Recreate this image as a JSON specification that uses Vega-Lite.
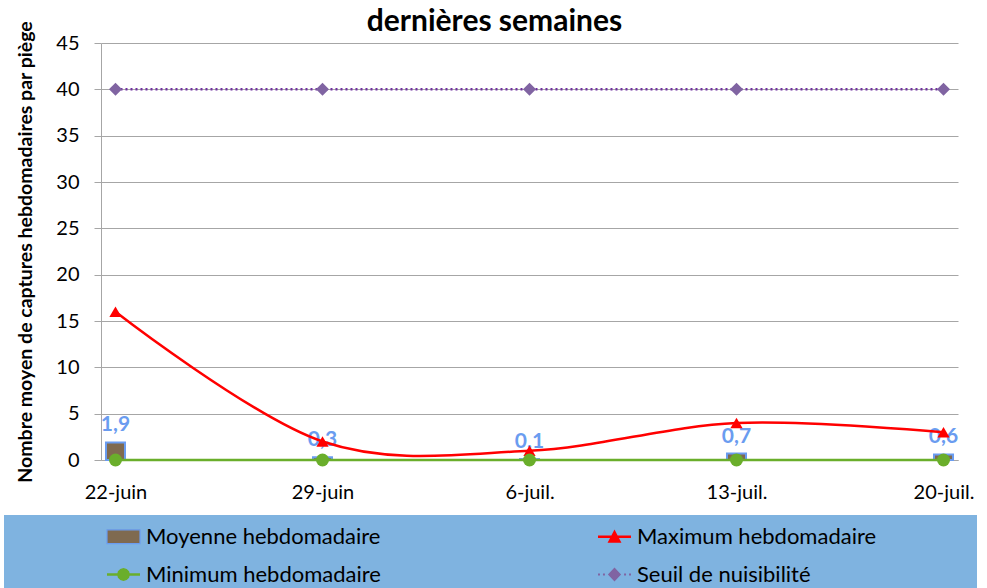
{
  "$schema": "https://vega.github.io/schema/vega-lite/v6.json",
  "width": 857,
  "height": 417,
  "autosize": {"type": "none"},
  "padding": {"left": 101, "top": 43, "right": 29, "bottom": 128},
  "background": "white",
  "config": {
    "font": "Lato",
    "view": {"stroke": null},
    "locale": {"number": {"decimal": ",", "thousands": " ", "grouping": [3], "currency": ["", " €"]}},
    "legend": {
      "orient": "none",
      "legendX": -97,
      "legendY": 472,
      "titleOrient": "left",
      "titleFontSize": 1,
      "titlePadding": 98,
      "columns": 2,
      "columnPadding": 118,
      "rowPadding": 9,
      "padding": 4,
      "fillColor": "#7FB3E0",
      "labelFont": "Lato",
      "labelFontSize": 22,
      "labelColor": "#000000",
      "labelOffset": 5,
      "labelLimit": 0,
      "symbolSize": 1089,
      "symbolOpacity": 1,
      "symbolStrokeWidth": 1.2
    }
  },
  "title": {
    "text": "dernières semaines",
    "font": "Lato",
    "fontSize": 30,
    "fontWeight": "bold",
    "color": "#000000",
    "anchor": "middle",
    "frame": "group",
    "baseline": "alphabetic",
    "offset": 11,
    "dx": -35,
    "dy": 51
  },
  "data": {
    "values": [
      {"date": "22-juin", "serie": "Moyenne hebdomadaire", "value": 1.9},
      {"date": "29-juin", "serie": "Moyenne hebdomadaire", "value": 0.3},
      {"date": "6-juil.", "serie": "Moyenne hebdomadaire", "value": 0.1},
      {"date": "13-juil.", "serie": "Moyenne hebdomadaire", "value": 0.7},
      {"date": "20-juil.", "serie": "Moyenne hebdomadaire", "value": 0.6},
      {"date": "22-juin", "serie": "Maximum hebdomadaire", "value": 16},
      {"date": "29-juin", "serie": "Maximum hebdomadaire", "value": 2},
      {"date": "6-juil.", "serie": "Maximum hebdomadaire", "value": 1},
      {"date": "13-juil.", "serie": "Maximum hebdomadaire", "value": 4},
      {"date": "20-juil.", "serie": "Maximum hebdomadaire", "value": 3},
      {"date": "22-juin", "serie": "Minimum hebdomadaire", "value": 0},
      {"date": "29-juin", "serie": "Minimum hebdomadaire", "value": 0},
      {"date": "6-juil.", "serie": "Minimum hebdomadaire", "value": 0},
      {"date": "13-juil.", "serie": "Minimum hebdomadaire", "value": 0},
      {"date": "20-juil.", "serie": "Minimum hebdomadaire", "value": 0},
      {"date": "22-juin", "serie": "Seuil de nuisibilité", "value": 40},
      {"date": "29-juin", "serie": "Seuil de nuisibilité", "value": 40},
      {"date": "6-juil.", "serie": "Seuil de nuisibilité", "value": 40},
      {"date": "13-juil.", "serie": "Seuil de nuisibilité", "value": 40},
      {"date": "20-juil.", "serie": "Seuil de nuisibilité", "value": 40}
    ]
  },
  "encoding": {
    "x": {
      "field": "date",
      "type": "ordinal",
      "sort": null,
      "scale": {"type": "point", "padding": 0.07},
      "axis": {
        "title": null,
        "labelAngle": 0,
        "labelFont": "Lato",
        "labelFontSize": 20,
        "labelColor": "#000000",
        "labelPadding": 22,
        "ticks": false,
        "tickSize": 0,
        "domain": true,
        "domainColor": "#A6A6A6",
        "grid": false
      }
    },
    "y": {
      "field": "value",
      "type": "quantitative",
      "scale": {"domain": [0, 45], "nice": false},
      "axis": {
        "title": "Nombre moyen de captures hebdomadaires par piège",
        "titleFont": "Lato",
        "titleFontSize": 19.5,
        "titleFontWeight": "bold",
        "titleColor": "#000000",
        "titlePadding": 20,
        "titleLimit": 700,
        "values": [0, 5, 10, 15, 20, 25, 30, 35, 40, 45],
        "labelFont": "Lato",
        "labelFontSize": 20,
        "labelColor": "#000000",
        "labelPadding": 15,
        "tickSize": 7,
        "tickColor": "#A6A6A6",
        "domainColor": "#A6A6A6",
        "gridColor": "#A6A6A6",
        "grid": true
      }
    }
  },
  "layer": [
    {
      "transform": [{"filter": "datum.serie === 'Moyenne hebdomadaire'"}],
      "mark": {"type": "bar", "width": 19, "fill": "#7F6A50", "stroke": "#6A9CF0", "strokeWidth": 2}
    },
    {
      "transform": [{"filter": "datum.serie === 'Moyenne hebdomadaire'"}],
      "mark": {"type": "text", "baseline": "alphabetic", "dy": -11, "font": "Lato", "fontSize": 21, "fontWeight": "bold", "color": "#6A9CF0"},
      "encoding": {"text": {"field": "value", "type": "quantitative", "format": ".1f"}}
    },
    {
      "transform": [{"filter": "datum.serie === 'Seuil de nuisibilité'"}],
      "mark": {"type": "line", "stroke": "#7030A0", "strokeWidth": 2.5, "strokeDash": [2, 3]}
    },
    {
      "transform": [{"filter": "datum.serie === 'Maximum hebdomadaire'"}],
      "mark": {"type": "line", "interpolate": "cardinal", "stroke": "#FF0000", "strokeWidth": 2.5}
    },
    {
      "transform": [{"filter": "datum.serie === 'Minimum hebdomadaire'"}],
      "mark": {"type": "line", "stroke": "#6AAE2B", "strokeWidth": 2.5}
    },
    {
      "transform": [{"filter": "datum.serie === 'Seuil de nuisibilité'"}],
      "mark": {"type": "point", "shape": "diamond", "filled": true, "size": 170, "color": "#8064A2", "opacity": 1}
    },
    {
      "transform": [{"filter": "datum.serie === 'Maximum hebdomadaire'"}],
      "mark": {"type": "point", "shape": "triangle-up", "filled": true, "size": 150, "color": "#FF0000", "opacity": 1}
    },
    {
      "transform": [{"filter": "datum.serie === 'Minimum hebdomadaire'"}],
      "mark": {"type": "point", "shape": "circle", "filled": true, "size": 169, "color": "#6AAE2B", "opacity": 1}
    },
    {
      "mark": {"type": "point", "filled": true, "opacity": 0},
      "encoding": {
        "color": {
          "field": "serie",
          "type": "nominal",
          "title": "\u2003",
          "scale": {
            "domain": ["Moyenne hebdomadaire", "Minimum hebdomadaire", "Maximum hebdomadaire", "Seuil de nuisibilité"],
            "range": ["#7F6A50", "#6AAE2B", "#FF0000", "#8064A2"]
          },
          "legend": {"labelExpr": "datum.label + '\u2800\u2800\u2800\u2800\u2800\u2800'"}
        },
        "shape": {
          "field": "serie",
          "type": "nominal",
          "title": "\u2003",
          "scale": {
            "domain": ["Moyenne hebdomadaire", "Minimum hebdomadaire", "Maximum hebdomadaire", "Seuil de nuisibilité"],
            "range": [
              "M-1,-0.42H1V0.42H-1Z",
              "M-1,-0.075H1V0.075H-1Z M0.39,0L0.338,0.195L0.195,0.338L0,0.39L-0.195,0.338L-0.338,0.195L-0.39,0L-0.338,-0.195L-0.195,-0.338L0,-0.39L0.195,-0.338L0.338,-0.195Z",
              "M-1,-0.075H1V0.075H-1Z M0,-0.44L0.42,0.36L-0.42,0.36Z",
              "M-1,-0.06h0.12v0.12h-0.12Z M-0.7,-0.06h0.12v0.12h-0.12Z M0.58,-0.06h0.12v0.12h-0.12Z M0.88,-0.06h0.12v0.12h-0.12Z M0,-0.42L0.4,0L0,0.42L-0.4,0Z"
            ]
          },
          "legend": {"labelExpr": "datum.label + '\u2800\u2800\u2800\u2800\u2800\u2800'"}
        },
        "stroke": {
          "field": "serie",
          "type": "nominal",
          "title": "\u2003",
          "scale": {
            "domain": ["Moyenne hebdomadaire", "Minimum hebdomadaire", "Maximum hebdomadaire", "Seuil de nuisibilité"],
            "range": ["#6A9CF0", "transparent", "transparent", "transparent"]
          },
          "legend": {"labelExpr": "datum.label + '\u2800\u2800\u2800\u2800\u2800\u2800'"}
        }
      }
    }
  ]
}
